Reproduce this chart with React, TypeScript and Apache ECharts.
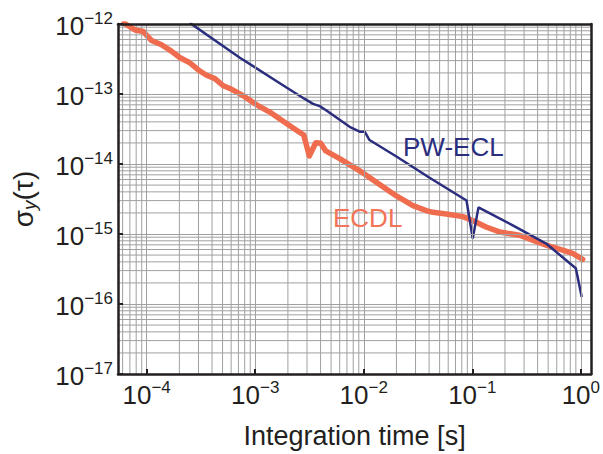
import React, { useEffect, useRef } from "react";
import * as echarts from "echarts";

// ECDL (thick orange) Allan deviation
const ecdlTau = [6.2e-5, 7.8e-5, 9.3e-5, 1.11e-4, 1.37e-4, 1.7e-4, 2.03e-4, 2.5e-4, 3.09e-4, 3.56e-4, 4.25e-4, 5.07e-4, 5.84e-4, 7.74e-4, 1.03e-3, 1.36e-3, 1.81e-3, 2.4e-3, 2.8e-3, 3.15e-3, 3.61e-3, 4.01e-3, 4.46e-3, 6.0e-3, 9.84e-3, 1.4e-2, 2.0e-2, 2.84e-2, 3.77e-2, 4.34e-2, 5.75e-2, 8.19e-2, 0.101, 0.134, 0.178, 0.272, 0.36, 0.479, 0.681, 0.841, 1.04];
const ecdlSigma = [1.03e-12, 8.2e-13, 7.8e-13, 5.8e-13, 5.06e-13, 4.07e-13, 3.29e-13, 2.79e-13, 2.13e-13, 1.85e-13, 1.66e-13, 1.31e-13, 1.2e-13, 9.47e-14, 7.0e-14, 5.52e-14, 4.07e-14, 3.04e-14, 2.59e-14, 1.3e-14, 2.01e-14, 1.98e-14, 1.54e-14, 1.19e-14, 7.46e-15, 5.1e-15, 3.5e-15, 2.54e-15, 2.16e-15, 2.04e-15, 1.93e-15, 1.77e-15, 1.56e-15, 1.26e-15, 1.07e-15, 9.6e-16, 8.15e-16, 6.93e-16, 5.89e-16, 5.28e-16, 4.35e-16];

// PW-ECL (thin navy) Allan deviation
const pwTau = [2.5e-4, 7.22e-4, 1.94e-3, 2.86e-3, 3.41e-3, 3.93e-3, 4.53e-3, 7.41e-3, 9.16e-3, 1.02e-2, 1.13e-2, 2.0e-2, 4.04e-2, 8.85e-2, 0.101, 0.114, 0.236, 0.479, 0.899, 1.02];
const pwSigma = [1.036e-12, 3.29e-13, 1.24e-13, 8.5e-14, 7.23e-14, 6.71e-14, 5.82e-14, 3.4e-14, 2.89e-14, 2.89e-14, 2.2e-14, 1.28e-14, 6.35e-15, 3.01e-15, 8.6e-16, 2.4e-15, 1.33e-15, 7.3e-16, 3.24e-16, 1.26e-16];

const xMin = 5.44e-5;
const xMax = 1.245;
const yMin = 1e-17;
const yMax = 1e-12;

const FONT = "'Liberation Sans', Arial, Helvetica, sans-serif";
const TEXT = "#231f20";
const ORANGE = "#F06C4E";
const NAVY = "#2B2E7E";
const GRID = "#a0a0a0";

function expLabel(v: number): string {
  const e = Math.log10(v);
  const r = Math.round(e);
  if (Math.abs(e - r) > 1e-6) return "";
  return `{b|10}{s|${r < 0 ? "\u2212" : ""}${Math.abs(r)}}`;
}

const labelRich = {
  b: { fontSize: 26, lineHeight: 29, verticalAlign: "bottom", fontFamily: FONT, color: TEXT },
  s: { fontSize: 17, lineHeight: 16, verticalAlign: "top", fontFamily: FONT, color: TEXT },
};

export default function App() {
  const ref = useRef<HTMLDivElement>(null);
  useEffect(() => {
    if (!ref.current) return;
    const chart = echarts.init(ref.current, undefined, { renderer: "svg" });

    const minorX: number[][] = [];
    for (let k = -5; k <= 0; k++)
      for (let m = 2; m <= 9; m++) {
        const v = m * Math.pow(10, k);
        if (v > xMin && v < xMax) minorX.push([v, yMin]);
      }
    const minorY: number[][] = [];
    for (let k = -17; k <= -13; k++)
      for (let m = 2; m <= 9; m++) {
        const v = m * Math.pow(10, k);
        if (v > yMin && v < yMax) minorY.push([xMin, v]);
      }

    const gridLine = (vertical: boolean) => (params: any, api: any) => {
      const a = vertical ? api.coord([api.value(0), yMin]) : api.coord([xMin, api.value(1)]);
      const b = vertical ? api.coord([api.value(0), yMax]) : api.coord([xMax, api.value(1)]);
      return {
        type: "line",
        shape: { x1: a[0], y1: a[1], x2: b[0], y2: b[1] },
        style: { stroke: GRID, lineWidth: 1 },
        silent: true,
      };
    };

    const borderAxis = {
      show: true,
      axisLine: { show: true, lineStyle: { color: TEXT, width: 2.5 } },
      axisTick: { show: false },
      axisLabel: { show: false },
      splitLine: { show: false },
    };

    chart.setOption({
      animation: false,
      grid: { left: 118, top: 24, right: 11, bottom: 75, containLabel: false },
      xAxis: [
        {
          type: "log",
          logBase: 10,
          min: xMin,
          max: xMax,
          name: "Integration time [s]",
          nameLocation: "middle",
          nameGap: 48,
          nameTextStyle: { fontSize: 27, color: TEXT, fontFamily: FONT },
          axisLine: { show: true, lineStyle: { color: TEXT, width: 2.5 } },
          axisTick: { show: true, inside: true, length: 5, lineStyle: { color: TEXT, width: 2 } },
          minorTick: { show: false },
          splitLine: { show: true, lineStyle: { color: GRID, width: 1 } },
          axisLabel: { formatter: expLabel, rich: labelRich, margin: 5, color: TEXT, showMinLabel: false, showMaxLabel: false },
          z: 5,
        },
        { type: "log", position: "top", min: xMin, max: xMax, ...borderAxis, z: 5 },
      ],
      yAxis: [
        {
          type: "log",
          logBase: 10,
          min: yMin,
          max: yMax,
          name: "{a|\u03c3}{i|y}{a|(\u03c4)}",
          nameLocation: "middle",
          nameGap: 79,
          nameTextStyle: {
            rich: {
              a: { fontSize: 28, lineHeight: 32, fontFamily: FONT, color: TEXT },
              i: { fontSize: 19, lineHeight: 22, fontStyle: "italic", verticalAlign: "bottom", fontFamily: FONT, color: TEXT },
            },
          },
          axisLine: { show: true, lineStyle: { color: TEXT, width: 2.5 } },
          axisTick: { show: true, inside: true, length: 5, lineStyle: { color: TEXT, width: 2 } },
          splitLine: { show: true, lineStyle: { color: GRID, width: 1 } },
          axisLabel: { formatter: expLabel, rich: labelRich, margin: 5, color: TEXT },
          z: 5,
        },
        { type: "log", position: "right", min: yMin, max: yMax, ...borderAxis, z: 5 },
      ],
      graphic: [
        {
          type: "text",
          left: 403,
          top: 134,
          style: { text: "PW-ECL", fill: NAVY, font: `26px ${FONT}` },
          z: 10,
        },
        {
          type: "text",
          left: 333,
          top: 205,
          style: { text: "ECDL", fill: "#F37457", font: `26px ${FONT}` },
          z: 10,
        },
      ],
      series: [
        {
          type: "custom",
          data: minorX,
          encode: { x: 0, y: 1 },
          renderItem: gridLine(true),
          silent: true,
          clip: false,
          z: 1,
        },
        {
          type: "custom",
          data: minorY,
          encode: { x: 0, y: 1 },
          renderItem: gridLine(false),
          silent: true,
          clip: false,
          z: 1,
        },
        {
          name: "ECDL",
          type: "line",
          data: ecdlTau.map((t, i) => [t, ecdlSigma[i]]),
          showSymbol: false,
          lineStyle: { color: ORANGE, width: 5.5, join: "round", cap: "round" },
          itemStyle: { color: ORANGE },
          z: 3,
        },
        {
          name: "PW-ECL",
          type: "line",
          data: pwTau.map((t, i) => [t, pwSigma[i]]),
          showSymbol: false,
          lineStyle: { color: NAVY, width: 2.5 },
          itemStyle: { color: NAVY },
          z: 4,
        },
      ],
    });
    return () => chart.dispose();
  }, []);
  return <div ref={ref} style={{ width: 603, height: 454, position: "absolute", left: 0, top: 0 }} />;
}
